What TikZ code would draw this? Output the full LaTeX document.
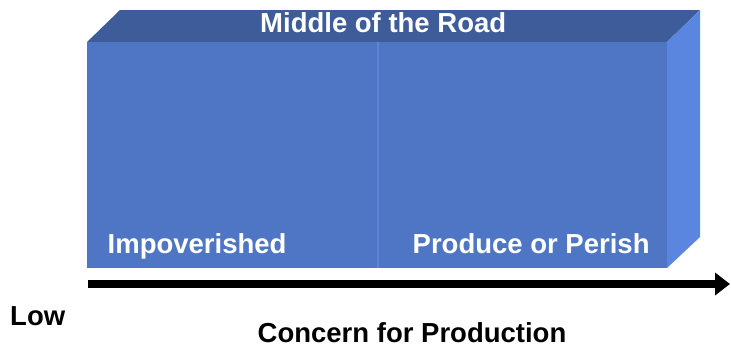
\documentclass[tikz,border=0pt]{standalone}
\usepackage{fontspec}
\setmainfont{Liberation Sans}
\usetikzlibrary{arrows.meta}
\definecolor{topc}{HTML}{3E5C99}
\definecolor{frontc}{HTML}{4F76C4}
\definecolor{sidec}{HTML}{5A86DF}
\definecolor{divc}{HTML}{5B85D6}
\tikzset{
  lbl/.style={inner sep=0pt, anchor=base west, font=\fontsize{27.5}{33}\selectfont\bfseries},
  wlbl/.style={lbl, text=white},
  axis/.style={line width=7.5pt, -{Triangle[length=15pt,width=22pt]}}
}
\begin{document}
\begin{tikzpicture}[x=1pt,y=-1pt]
\useasboundingbox (0,0) rectangle (731,348);
% faces
\fill[topc] (87,42) -- (120,10) -- (700,10) -- (667,42) -- cycle;
\fill[sidec] (667,42) -- (700,10) -- (700,237) -- (667,268) -- cycle;
\fill[frontc] (87,42) rectangle (667,268);
\draw[divc, line width=1.5pt] (378,42) -- (378,268);
% labels
\node[wlbl] (mid) at (260,32) {Middle of the Road};
\node[wlbl] (imp) at (107.5,253) {Impoverished};
\node[wlbl] (pop) at (412.5,253) {Produce or Perish};
\node[lbl] (low) at (10,325) {Low};
\node[lbl] (con) at (257.5,342) {Concern for Production};
% axis
\coordinate (a0) at (88,284);
\coordinate (a1) at (730,284);
\draw[axis] (a0) -- (a1);
\end{tikzpicture}
\end{document}
